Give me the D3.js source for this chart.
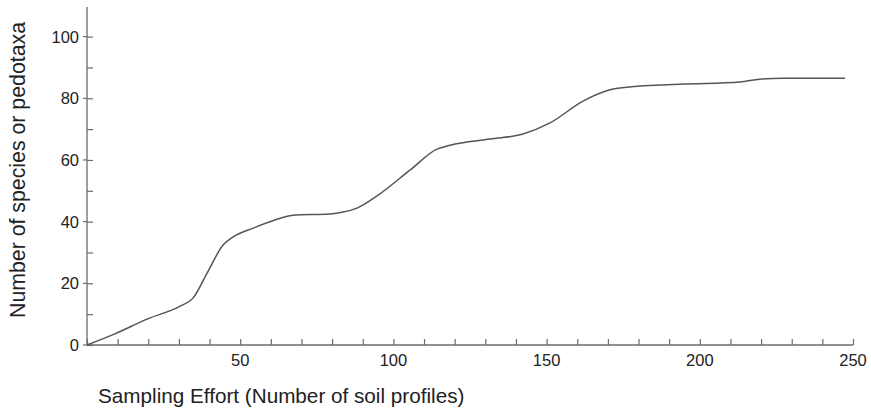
<!DOCTYPE html>
<html>
<head>
<meta charset="utf-8">
<script src="https://cdn.jsdelivr.net/npm/d3@7"></script>
<style>
  html, body { margin: 0; padding: 0; background: #fff; }
  svg { display: block; font-family: "Liberation Sans", Arial, sans-serif; }
</style>
</head>
<body>
<svg id="chart" width="871" height="413"></svg>
<script>
// Species accumulation: sampling effort vs. number of species/pedotaxa
const effort = [0, 9.1, 19.6, 30.4, 34.6, 39.2, 44.4, 47.6, 54.2, 60.4, 67.2, 79.3, 83.6, 88.1, 95.0, 105.4, 114.2, 118.5, 131.5, 142.3, 151.1, 161.9, 171.7, 176.2, 194.5, 213.1, 219.6, 227.2, 247.4];
const taxa   = [0, 3.6, 8.4, 12.6, 15.2, 23.3, 32.4, 35.0, 37.9, 40.2, 42.1, 42.5, 43.1, 44.4, 48.6, 56.7, 63.5, 64.8, 66.8, 68.4, 72.0, 79.1, 83.0, 83.6, 84.6, 85.3, 86.2, 86.5, 86.5];
const xTickLabels = [50, 100, 150, 200, 250];
const yTickLabels = [0, 20, 40, 60, 80, 100];
const xMinorTicks = d3.range(0, 251, 10);
const yMinorTicks = d3.range(0, 101, 10);

const svg = d3.select("#chart");

const x = d3.scaleLinear().domain([0, 250]).range([87, 853]);
const y = d3.scaleLinear().domain([0, 109.6]).range([345, 7]);

const axisColor = "#6b6b6b";
const textColor = "#222";

// Axis lines
svg.append("line")
  .attr("x1", x(0)).attr("x2", x(250))
  .attr("y1", y(0)).attr("y2", y(0))
  .attr("stroke", axisColor).attr("stroke-width", 1.3);
svg.append("line")
  .attr("x1", x(0)).attr("x2", x(0))
  .attr("y1", y(0)).attr("y2", y(109.6))
  .attr("stroke", axisColor).attr("stroke-width", 1.3);

// X axis: inward ticks every 10, labels every 50
const xAxis = d3.axisTop(x).tickValues(xMinorTicks).tickSize(6).tickFormat("");
const gx = svg.append("g").attr("transform", `translate(0,${y(0)})`).call(xAxis);
gx.select(".domain").remove();
gx.selectAll(".tick line").attr("stroke", axisColor).attr("stroke-width", 1.2);

svg.append("g").selectAll("text").data(xTickLabels).join("text")
  .attr("x", d => x(d)).attr("y", 366)
  .attr("text-anchor", "middle")
  .attr("font-size", 16.5).attr("fill", textColor)
  .text(d => d);

// Y axis: inward ticks every 10, labels every 20
const yAxis = d3.axisRight(y).tickValues(yMinorTicks).tickSize(6).tickFormat("");
const gy = svg.append("g").attr("transform", `translate(${x(0)},0)`).call(yAxis);
gy.select(".domain").remove();
gy.selectAll(".tick line").attr("stroke", axisColor).attr("stroke-width", 1.2);

svg.append("g").selectAll("line").data(yTickLabels).join("line")
  .attr("x1", x(0) - 4).attr("x2", x(0))
  .attr("y1", d => y(d)).attr("y2", d => y(d))
  .attr("stroke", axisColor).attr("stroke-width", 1.2);

svg.append("g").selectAll("text").data(yTickLabels).join("text")
  .attr("x", 79).attr("y", d => y(d))
  .attr("dy", "0.36em")
  .attr("text-anchor", "end")
  .attr("font-size", 16.5).attr("fill", textColor)
  .text(d => d);

// Accumulation curve
const pts = effort.map((e, i) => [e, taxa[i]]);
const line = d3.line()
  .x(d => x(d[0])).y(d => y(d[1]))
  .curve(d3.curveMonotoneX);
svg.append("path")
  .datum(pts)
  .attr("d", line)
  .attr("fill", "none")
  .attr("stroke", "#555")
  .attr("stroke-width", 1.5);

// Axis titles
svg.append("text")
  .attr("x", 98).attr("y", 403)
  .attr("font-size", 20.7).attr("fill", textColor)
  .text("Sampling Effort (Number of soil profiles)");

svg.append("text")
  .attr("transform", "translate(25,170) rotate(-90)")
  .attr("text-anchor", "middle")
  .attr("font-size", 21.3).attr("fill", textColor)
  .text("Number of species or pedotaxa");
</script>
</body>
</html>
